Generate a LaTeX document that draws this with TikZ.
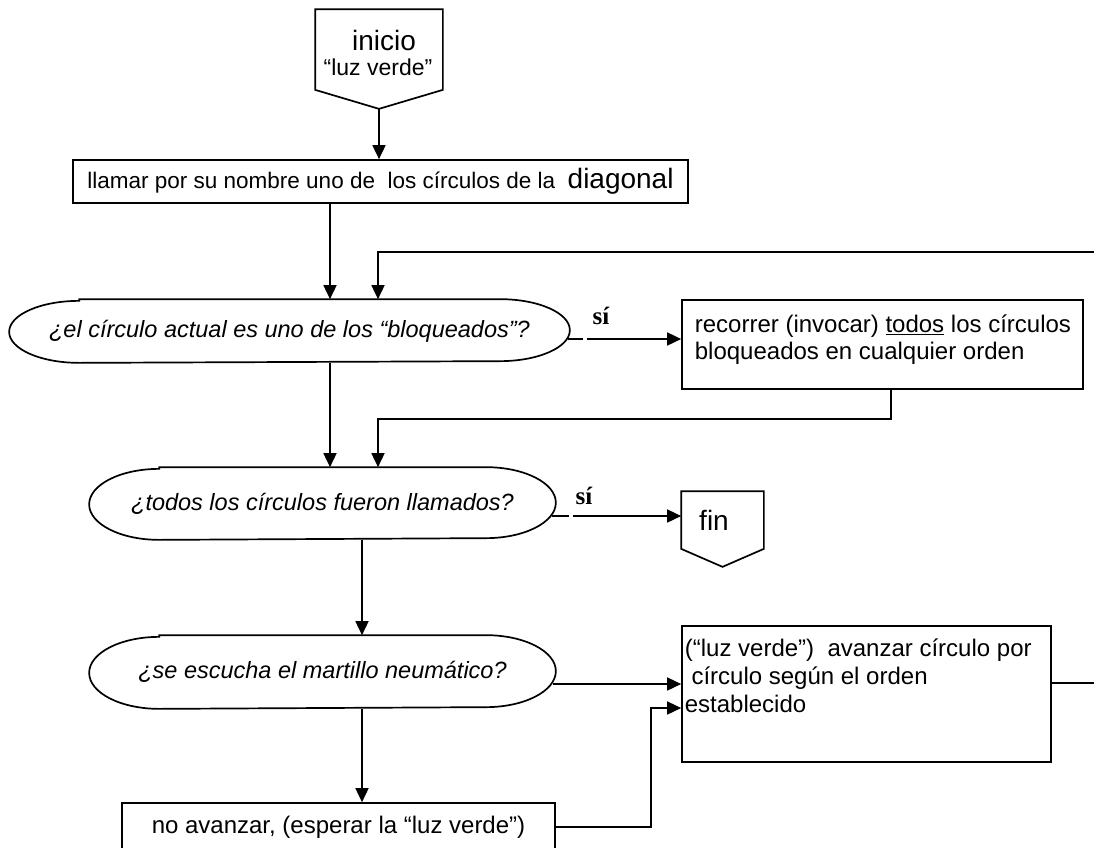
\documentclass[tikz,border=0pt]{standalone}
\usepackage{fontspec}
\setmainfont{Liberation Sans}
\newfontfamily\yesfont{Liberation Serif}
\usetikzlibrary{arrows.meta,calc}
\newcommand\stadium[3]{%
  \draw ([xshift=#2pt]#1.north west) -- ([xshift=-#2pt]#1.north east)
    arc[start angle=90,end angle=-90,x radius=#2pt,y radius=#3pt]
    -- ([xshift=#2pt]#1.south west)
    arc[start angle=270,end angle=90,x radius=#2pt,y radius=#3pt] -- cycle;}
\begin{document}
\begin{tikzpicture}[x=1pt,y=-1pt,line width=1.7pt,
  box/.style={draw,rectangle,inner sep=0pt},
  area/.style={rectangle,inner sep=0pt},
  conn/.style={-{Triangle[length=14pt,width=13pt]}},
  txt/.style={font=\fontsize{24}{27}\selectfont,inner sep=0pt},
  q/.style={rectangle,inner sep=0pt,font=\fontsize{23.5}{27}\selectfont\itshape},
  yes/.style={inner sep=0pt,font=\fontsize{25}{27}\selectfont\yesfont\bfseries}]
\useasboundingbox (0,0) rectangle (1094,847);

% column / row coordinates
\coordinate (cA) at (330,0);
\coordinate (cB) at (378,0);
\coordinate (cC) at (362,0);
\coordinate (cD) at (891,419);
\coordinate (cE) at (651,708);
\coordinate (y1) at (0,339);
\coordinate (y2) at (0,516);
\coordinate (y3) at (0,684);
\coordinate (y4) at (0,827);
\coordinate (fbR) at (1094,252);
\coordinate (r3R) at (1094,683);

% inicio
\node[area,minimum width=126pt,minimum height=79pt] (ini) at (379,49.5) {};
\draw (ini.north west) -- (ini.north east) -- (ini.south east) -- ([yshift=-19pt]ini.south) -- (ini.south west) -- cycle;
\node[inner sep=0pt,font=\fontsize{28}{30}\selectfont] (iniA) at (384,40) {inicio};
\node[inner sep=0pt,font=\fontsize{23}{26}\selectfont] (iniB) at (378,67) {“luz verde”};

% rect 1
\node[box,minimum width=615pt,minimum height=43pt,font=\fontsize{22.5}{24}\selectfont] (r1) at (380.5,181.5)
  {llamar por su nombre uno de\ \ los círculos de la\ \ {\fontsize{28}{30}\selectfont diagonal}};

% decision 1
\node[q,minimum width=559pt,minimum height=62pt] (d1) at (289.5,331) {¿el círculo actual es uno de los “bloqueados”?\hspace{9pt}};
\stadium{d1}{70}{31}

% rect 2
\node[box,minimum width=401pt,minimum height=89pt] (r2) at (882.5,344.5) {};
\node[txt,anchor=north west,align=left] (r2t) at (694,314) {recorrer (invocar) \underline{todos} los círculos\\bloqueados en cualquier orden};

% decision 2
\node[q,minimum width=465pt,minimum height=71pt] (d2) at (322.5,503.5) {¿todos los círculos fueron llamados?};
\stadium{d2}{70}{35.5}

% fin
\node[area,minimum width=81pt,minimum height=56pt] (fin) at (722.5,520) {};
\draw (fin.north west) -- (fin.north east) -- (fin.south east) -- ([yshift=-18pt]fin.south) -- (fin.south west) -- cycle;
\node[inner sep=0pt,font=\fontsize{28}{30}\selectfont] (finT) at (714,520) {fin};

% decision 3
\node[q,minimum width=465pt,minimum height=72pt] (d3) at (322.5,672) {¿se escucha el martillo neumático?};
\stadium{d3}{70}{36}

% rect 3
\node[box,minimum width=369pt,minimum height=136pt] (r3) at (866.5,694) {};
\node[inner sep=0pt,font=\fontsize{24}{28}\selectfont,anchor=north west,align=left] (r3t) at (684,638) {(“luz verde”)\ \ avanzar círculo por\\\ círculo según el orden\\establecido};

% rect 4
\node[box,minimum width=433pt,minimum height=49pt,font=\fontsize{24}{26}\selectfont] (r4) at (338.5,827.5) {no avanzar, (esperar la “luz verde”)};

% labels
\node[yes] (si1) at (601,316) {sí};
\node[yes] (si2) at (584,496) {sí};

% connectors
\draw[conn] ([yshift=-19pt]ini.south) -- (ini.south |- r1.north);
\draw[conn] (r1.south -| cA) -- (d1.north -| cA);
\draw[conn] (fbR) -| (d1.north -| cB);
\draw ($(d1.east |- y1)+(-2,0)$) -- ++(15,0);
\draw[conn] ($(d1.east |- y1)+(17,0)$) -- (r2.west |- y1);
\draw[conn] (d1.south -| cA) -- (d2.north -| cA);
\draw[conn] (r2.south -| cD) -- (cD) -| (d2.north -| cB);
\draw ($(d2.east |- y2)+(-4,0)$) -- ++(17,0);
\draw[conn] ($(d2.east |- y2)+(17,0)$) -- (fin.west |- y2);
\draw[conn] (d2.south -| cC) -- (d3.north -| cC);
\draw[conn] ($(d3.east |- y3)+(-3,0)$) -- (r3.west |- y3);
\draw (r3.east |- r3R) -- (r3R);
\draw[conn] (d3.south -| cC) -- (r4.north -| cC);
\draw[conn] (r4.east |- y4) -| (cE) -- (r3.west |- cE);
\end{tikzpicture}
\end{document}
